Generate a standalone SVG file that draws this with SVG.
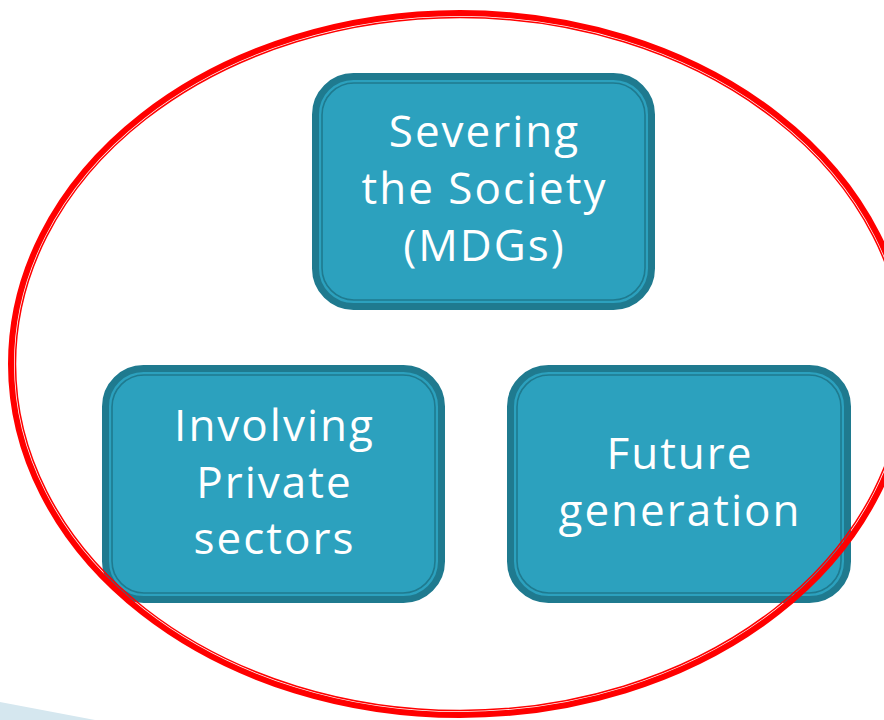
<svg xmlns="http://www.w3.org/2000/svg" width="884" height="720" viewBox="0 0 884 720">
<style>
.box{fill:#2CA1BE;stroke:#1F7A8F;stroke-width:7}
.inner{fill:none;stroke:#1F7A8F;stroke-width:1.6}
.lbl{font-family:"Open Sans","DejaVu Sans",sans-serif;font-size:44px;fill:#FFFFFF;text-anchor:middle;letter-spacing:2px}
.ring{fill:none;stroke:#FF0000}
</style>
<rect width="884" height="720" fill="#FFFFFF"/>
<polygon points="0,702 95,720 0,720" fill="#D5E7EF"/>
<g id="node-top">
<rect class="box" x="315.5" y="76.5" width="336" height="230" rx="38"/>
<rect class="inner" x="322" y="83" width="323" height="217" rx="32"/>
<text class="lbl" x="484.5" y="147">Severing</text>
<text class="lbl" x="484.5" y="204">the Society</text>
<text class="lbl" x="484.5" y="261">(MDGs)</text>
</g>
<g id="node-left">
<rect class="box" x="105.5" y="368.5" width="336" height="231" rx="38"/>
<rect class="inner" x="112" y="375" width="323" height="218" rx="32"/>
<text class="lbl" x="274.5" y="441">Involving</text>
<text class="lbl" x="274.5" y="498">Private</text>
<text class="lbl" x="274.5" y="554">sectors</text>
</g>
<g id="node-right">
<rect class="box" x="510.5" y="368.5" width="337" height="231" rx="38"/>
<rect class="inner" x="517" y="375" width="324" height="218" rx="32"/>
<text class="lbl" x="680" y="469">Future</text>
<text class="lbl" x="680" y="526">generation</text>
</g>
<g id="connectors"></g>
<g id="ring">
<ellipse class="ring" cx="460" cy="364" rx="449" ry="351" stroke-width="6"/>
<ellipse class="ring" cx="460" cy="364" rx="444.5" ry="346.5" stroke-width="1.5"/>
</g>
</svg>
